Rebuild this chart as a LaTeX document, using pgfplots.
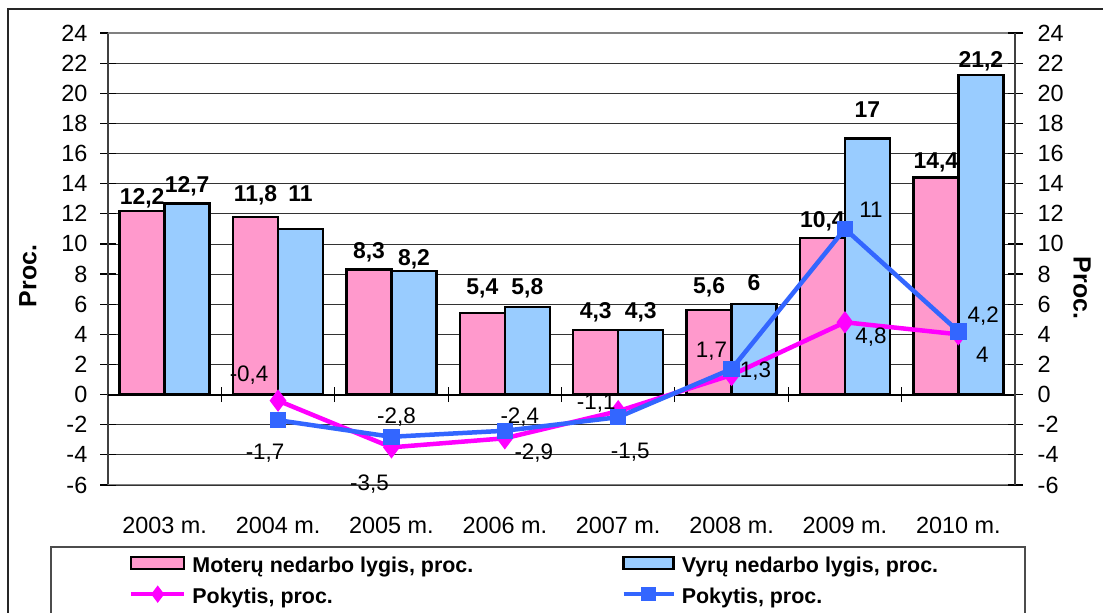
\documentclass[border=0pt]{standalone}
\usepackage{pgfplots}
\usepackage{pgfplotstable}
\pgfplotsset{compat=1.18}
\usepackage{fontspec}
\setmainfont{Liberation Sans}
\definecolor{barpink}{HTML}{FF99CC}
\definecolor{barblue}{HTML}{99CCFF}
\definecolor{linepink}{HTML}{FF00FF}
\definecolor{lineblue}{HTML}{3366FF}
\newcommand\tfont{\fontsize{22.5}{27}\selectfont}
\newcommand\yfont{\fontsize{23.5}{28}\selectfont}
\newcommand\cfont{\fontsize{23.5}{28}\selectfont}
\newcommand\bfont{\bfseries\fontsize{23}{27}\selectfont}

\pgfplotsset{
  barlegend/.style={legend image code/.code={\draw[##1] (0bp,-4bp) rectangle (53bp,8bp);}},
  barlegendb/.style={legend image code/.code={\draw[##1] (0bp,-4bp) rectangle (50bp,8bp);}},
  linelegend/.style={legend image code/.code={\draw[mark repeat=2, mark phase=2, ##1, mark size=5bp] plot coordinates {(0bp,2bp) (26.5bp,2bp) (53bp,2bp)};}},
  linelegendb/.style={legend image code/.code={\draw[mark repeat=2, mark phase=2, ##1, mark size=5bp] plot coordinates {(0bp,2bp) (25bp,2bp) (50bp,2bp)};}},
}

\pgfplotstableread{
x y dy
0 12.2 6.5
1 11.8 15
2 8.3 10.7
3 5.4 18.5
4 4.3 11.6
5 5.6 16.5
6 10.4 10.6
7 14.4 9.4
}\pinkbars

\pgfplotstableread{
x y dy
0 12.7 11
1 11 27
2 8.2 6
3 5.8 12.5
4 4.3 11.6
5 6 14
6 17 21
7 21.2 8
}\bluebars

\pgfplotstableread{
x y dx dy lab
1 -0.4 -29 26 -0,4
2 -3.5 -22 -37 -3,5
3 -2.9 29 -15 -2,9
4 -1.1 -22 8 -1,1
5 1.3 24 4 1,3
6 4.8 26 -15 4,8
7 4 24 -20 4
}\pinkline

\pgfplotstableread{
x y dx dy lab
1 -1.7 -13 -33 -1,7
2 -2.8 5 20 -2,8
3 -2.4 15 14 -2,4
4 -1.5 12 -35 -1,5
5 1.7 -20 18 1,7
6 11 26 19 11
7 4.2 25 15 4,2
}\blueline

\begin{document}
\begin{tikzpicture}
\useasboundingbox (0,0) rectangle (1103bp,613bp);
\clip (0,0) rectangle (1103bp,613bp);
\fill[white] (0,0) rectangle (1103bp,613bp);
\draw[black!85, line width=1.2bp] (8bp,-20bp) rectangle (1120bp,604bp);
\draw[black!70, line width=1.5bp] (51bp,-20bp) rectangle (1025bp,66bp);

\begin{axis}[
  at={(108bp,128bp)}, anchor=south west,
  width=907bp, height=452bp, scale only axis,
  xmin=-0.5, xmax=7.5, ymin=-6, ymax=24,
  ytick={-6,-4,...,24},
  xtick={0,...,7},
  xticklabels={2003 m.,2004 m.,2005 m.,2006 m.,2007 m.,2008 m.,2009 m.,2010 m.},
  axis y line*=left, axis x line*=bottom,
  x axis line style={draw=none},
  y axis line style={draw=black!75, line width=2bp},
  xtick style={draw=none},
  ytick style={draw=black, line width=1.2bp},
  tick align=center, major tick length=15bp,
  ymajorgrids, grid style={black!80, line width=0.8bp},
  /pgf/number format/use comma,
  /pgf/number format/assume math mode=true,
  /pgf/number format/1000 sep={},
  xticklabel style={font=\cfont, anchor=base, yshift=-41bp},
  yticklabel style={font=\yfont, anchor=east, inner sep=0pt},
  yticklabel shift=13bp,
  ylabel={Proc.},
  every axis y label/.style={at={(axis description cs:-0.0882,0.4624)}, rotate=90, anchor=center, font=\bfseries\fontsize{25}{30}\selectfont},
  legend columns=2, legend cell align=left,
  legend style={draw=none, fill=none, at={(axis description cs:0.02288,-0.1564)}, anchor=north west,
    font=\bfseries\fontsize{21.5}{26}\selectfont, inner sep=0pt, row sep=14bp, nodes={inner sep=0pt},
    /tikz/every odd column/.append style={column sep=6bp},
    /tikz/every even column/.append style={column sep=148bp}},
]
\draw[black, line width=2bp] (axis cs:-0.5,0) -- (axis cs:7.5,0);
\pgfplotsinvokeforeach{0.5,1.5,2.5,3.5,4.5,5.5,6.5}{
  \draw[black, line width=1.2bp] (axis cs:#1,0) ++(0bp,-7.5bp) -- ++(0bp,15bp);
}
\draw[black!50, line width=1.5bp] (rel axis cs:0,1) -- (rel axis cs:1,1);
\draw[black!50, line width=1.5bp] (rel axis cs:0,0) -- (rel axis cs:1,0);

\addplot[ybar, bar width=0.397, bar shift=-0.1985, fill=barpink, draw=black, line width=2.5bp,
  nodes near coords, visualization depends on={\thisrow{dy} \as \labdy},
  every node near coord/.append style={anchor=base, xshift=-22.5bp, yshift=\labdy bp, font=\bfont, inner sep=0pt, black},
  barlegend
] table[x=x,y=y] {\pinkbars};
\addlegendentry{Moterų nedarbo lygis, proc.}

\addplot[ybar, bar width=0.397, bar shift=0.1985, fill=barblue, draw=black, line width=2.5bp,
  nodes near coords, visualization depends on={\thisrow{dy} \as \labdy},
  every node near coord/.append style={anchor=base, xshift=22.5bp, yshift=\labdy bp, font=\bfont, inner sep=0pt, black},
  barlegendb
] table[x=x,y=y] {\bluebars};
\addlegendentry{Vyrų nedarbo lygis, proc.}

\addplot[color=linepink, line width=4.5bp, mark=diamond*, mark size=7.5bp, mark options={solid, fill=linepink},
  point meta=explicit symbolic, nodes near coords={\pgfplotspointmeta},
  visualization depends on={\thisrow{dx} \as \ldx},
  visualization depends on={\thisrow{dy} \as \ldy},
  every node near coord/.append style={anchor=center, xshift=\ldx bp, yshift=\ldy bp, font=\tfont, black, inner sep=0pt},
  linelegend
] table[x=x, y=y, meta=lab] {\pinkline};
\addlegendentry{Pokytis, proc.}

\addplot[color=lineblue, line width=4.5bp, mark=square*, mark size=6bp, mark options={solid, fill=lineblue},
  point meta=explicit symbolic, nodes near coords={\pgfplotspointmeta},
  visualization depends on={\thisrow{dx} \as \ldx},
  visualization depends on={\thisrow{dy} \as \ldy},
  every node near coord/.append style={anchor=center, xshift=\ldx bp, yshift=\ldy bp, font=\tfont, black, inner sep=0pt},
  linelegendb
] table[x=x, y=y, meta=lab] {\blueline};
\addlegendentry{Pokytis, proc.}
\end{axis}

\begin{axis}[
  at={(108bp,128bp)}, anchor=south west,
  width=907bp, height=452bp, scale only axis,
  xmin=-0.5, xmax=7.5, ymin=-6, ymax=24,
  ytick={-6,-4,...,24},
  axis y line*=right, axis x line=none,
  y axis line style={draw=black!75, line width=2bp},
  ytick style={draw=black, line width=1.2bp},
  tick align=center, major tick length=15bp,
  /pgf/number format/assume math mode=true,
  yticklabel style={font=\yfont, anchor=west, inner sep=0pt, xshift=15bp},
  ylabel={Proc.},
  every axis y label/.style={at={(axis description cs:1.0739,0.4358)}, rotate=-90, anchor=center, font=\bfseries\fontsize{25}{30}\selectfont},
]
\end{axis}
\end{tikzpicture}
\end{document}
